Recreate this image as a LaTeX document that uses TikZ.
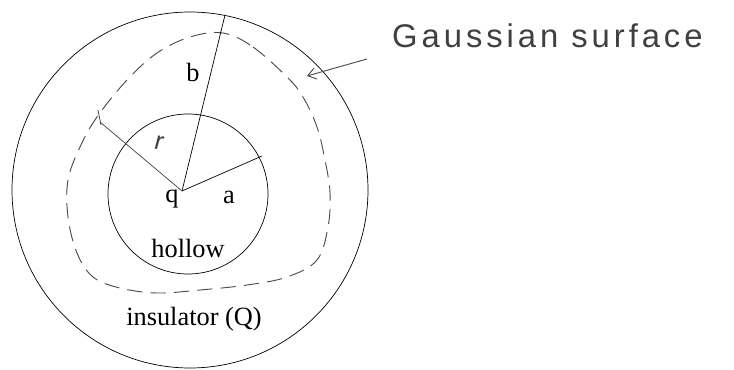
\documentclass[tikz,border=0pt]{standalone}
\usepackage{fontspec}
\setmainfont{Liberation Serif}
\newfontfamily\handfont[LetterSpace=12]{Liberation Sans}
\usetikzlibrary{arrows.meta}
\tikzset{
  shellline/.style={draw=black, line width=0.6pt},
  radline/.style={draw=black, line width=0.6pt},
  gaussline/.style={draw=black!70, line width=0.8pt, dash pattern=on 13pt off 7pt},
  shelllabel/.style={font=\fontsize{22.5}{26}\selectfont, inner sep=0pt},
  handlabel/.style={font=\handfont\fontsize{28}{32}\selectfont, text=black!75, inner sep=0pt},
  handarrow/.style={-{Straight Barb[length=2.4mm,width=3.4mm]}, line width=0.8pt, draw=black!70},
}

\begin{document}
\begin{tikzpicture}[x=0.03cm,y=-0.03cm]
  \useasboundingbox (0,0) rectangle (734,370);

  \coordinate (outerc) at (190,190);
  \coordinate (innerc) at (188,194);
  \coordinate (qpt) at (182,191);
  \coordinate (aend) at (262,156);
  \coordinate (bend) at (225,15);
  \coordinate (rend) at (100,122);

  % insulator shell and hollow
  \draw[shellline] (outerc) circle [radius=178];
  \draw[shellline] (innerc) circle [radius=80];

  % gaussian surface
  \draw[gaussline] plot[smooth cycle, tension=0.6] coordinates {
    (223,33) (253,47) (287,77) (303,97) (317,127) (325,160) (330,193)
    (328,227) (317,260) (287,277) (247,285) (200,290) (157,293) (120,288)
    (93,277) (77,253) (68,217) (68,180) (80,147) (97,117) (127,80)
    (157,53) (190,37)};

  % radii
  \draw[radline] (qpt) -- (aend);
  \draw[radline] (qpt) -- (bend);
  \draw[radline, draw=black!75] (qpt) -- (rend);
  \draw[radline, draw=black!75] (rend) ++(-2,-12) -- ++(3,15);

  \node[shelllabel] (qlbl) at (172,199) {q};
  \node[shelllabel] (albl) at (229,197) {a};
  \node[shelllabel] (blbl) at (193,72) {b};
  \node[shelllabel] (hollow) at (188,248) {hollow};
  \node[shelllabel] (insul) at (194,319) {insulator (Q)};
  \node[handlabel, font=\handfont\fontsize{22}{24}\selectfont, rotate=-15] (rlbl) at (159,143) {r};

  \node[handlabel, anchor=base west] (gauss) at (392,48) {Gaussian surface};
  \coordinate (tail) at (367,59);
  \coordinate (surf) at (307,76);
  \draw[handarrow] (tail) -- (surf);
\end{tikzpicture}
\end{document}
